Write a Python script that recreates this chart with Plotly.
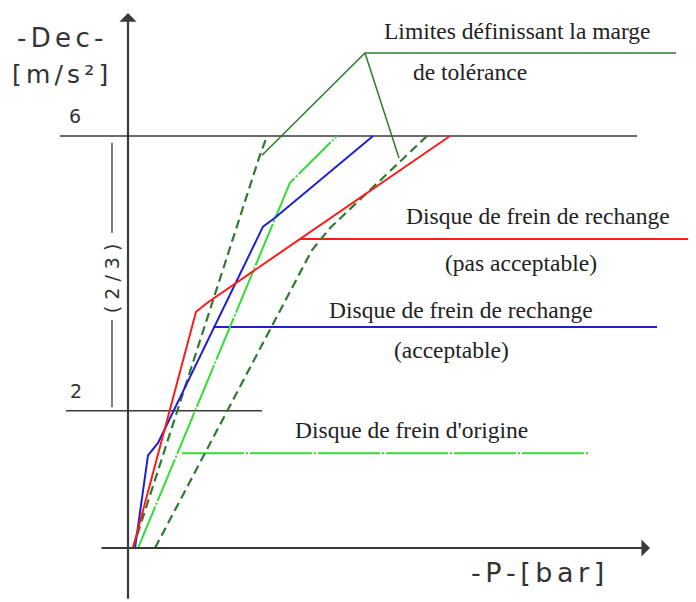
import plotly.graph_objects as go

# ---- data (pressure P in bar, deceleration Dec in m/s²) ----
red_p = [0.5, 6.8, 8.0, 32.2]
red_d = [0.0, 3.44, 3.58, 6.0]

blue_p = [0.7, 2.0, 3.0, 13.5, 14.7, 24.5]
blue_d = [0.0, 1.35, 1.53, 4.68, 4.81, 6.0]

green_p = [1.0, 16.2, 20.9]
green_d = [0.0, 5.32, 6.0]

tol_upper_p = [0.5, 13.1, 13.9]
tol_upper_d = [0.0, 5.68, 6.0]

tol_lower_p = [2.7, 18.4, 20.2, 29.9]
tol_lower_d = [0.0, 4.34, 4.66, 6.0]

# label leader lines
red_leader_p = [17.2, 57.2]
red_leader_d = [4.5, 4.5]
blue_leader_p = [8.5, 52.9]
blue_leader_d = [3.22, 3.22]
green_leader_p = [5.4, 46.2]
green_leader_d = [1.38, 1.38]
limit_leader_p = [13.4, 23.7, 54.8]
limit_leader_d = [5.72, 7.21, 7.21]
limit_arm_p = [23.7, 27.1]
limit_arm_d = [7.21, 5.68]

# reference levels
level_hi = 6
level_lo = 2
level_hi_p = [-6.8, 50.9]
level_lo_p = [-6.2, 13.4]
frac_p = -1.6
frac_top_d = [5.9, 4.59]
frac_bot_d = [3.32, 2.05]

# axis extents (figure sits 8px inside the page because of the body margin)
x_range = [-12.0, 56.8]
y_range = [-0.786, 7.864]

GRAY = "#3a3a3a"
DKGREEN = "#2f7a2f"
SERIF = "Liberation Serif, Times New Roman, serif"
SANS = "DejaVu Sans, sans-serif"

fig = go.Figure()

def line(x, y, color, width=2, dash="solid"):
    fig.add_trace(go.Scatter(x=x, y=y, mode="lines", hoverinfo="skip",
                             line=dict(color=color, width=width, dash=dash),
                             showlegend=False))

# reference horizontal lines
line(level_hi_p, [level_hi, level_hi], GRAY, 1.5)
line(level_lo_p, [level_lo, level_lo], GRAY, 1.5)
line([frac_p, frac_p], frac_top_d, GRAY, 1.3)
line([frac_p, frac_p], frac_bot_d, GRAY, 1.3)

# leader lines
line(limit_leader_p, limit_leader_d, DKGREEN, 1.5)
line(limit_arm_p, limit_arm_d, DKGREEN, 1.5)
line(red_leader_p, red_leader_d, "#ff1a1a", 2)
line(blue_leader_p, blue_leader_d, "#1f1fd6", 2)
line(green_leader_p, green_leader_d, "#33dd33", 2, "62px,2px,2px,2px")

# curves
line(tol_upper_p, tol_upper_d, DKGREEN, 2.2, "9px,5px")
line(tol_lower_p, tol_lower_d, DKGREEN, 2.2, "9px,5px")
line(green_p, green_d, "#33dd33", 2, "45px,2px,2px,2px")
line(blue_p, blue_d, "#1f1fd6", 2)
line(red_p, red_d, "#ff1a1a", 2)

annotations = []
# axes with arrows
annotations.append(dict(x=0, y=7.79, ax=0, ay=-0.76, xref="x", yref="y", axref="x", ayref="y",
                        showarrow=True, arrowhead=1, arrowsize=1.3, arrowwidth=2.2,
                        arrowcolor=GRAY, text=""))
annotations.append(dict(x=52.2, y=0, ax=-2.8, ay=0, xref="x", yref="y", axref="x", ayref="y",
                        showarrow=True, arrowhead=1, arrowsize=1.3, arrowwidth=2.2,
                        arrowcolor=GRAY, text=""))

def txt(x, y, s, size, family, angle=0, color="#222"):
    annotations.append(dict(x=x, y=y, xref="x", yref="y", text=s, showarrow=False,
                            textangle=angle, xanchor="center", yanchor="middle",
                            font=dict(size=size, family=family, color=color)))

ts = "\u2006"
txt(-6.8, 7.43, ts.join("-Dec-"), 26, SANS, color="#333")
txt(-6.8, 6.89, ts.join("[m/s²]"), 25, SANS, color="#333")
txt(-5.3, 6.29, str(level_hi), 19, SANS, color="#333")
txt(-5.2, 2.29, str(level_lo), 19, SANS, color="#333")
txt(frac_p, 3.93, " ".join("(2/3)"), 19, SANS, angle=-90, color="#333")
txt(40.9, -0.36, ts.join("-P-[bar]"), 27, SANS, color="#333")

txt(38.9, 7.53, "Limites définissant la marge", 23.5, SERIF)
txt(34.2, 6.93, "de tolérance", 23.5, SERIF)
txt(41.0, 4.83, "Disque de frein de rechange", 23.5, SERIF)
txt(39.3, 4.15, "(pas acceptable)", 23.5, SERIF)
txt(33.3, 3.47, "Disque de frein de rechange", 23.5, SERIF)
txt(32.3, 2.88, "(acceptable)", 23.5, SERIF)
txt(28.3, 1.72, "Disque de frein d'origine", 23.5, SERIF)

fig.update_layout(
    width=688, height=594,
    margin=dict(l=0, r=0, t=0, b=0),
    paper_bgcolor="white", plot_bgcolor="white",
    xaxis=dict(range=x_range, visible=False, fixedrange=True),
    yaxis=dict(range=y_range, visible=False, fixedrange=True),
    annotations=annotations,
    showlegend=False,
)

fig.write_html("out.html")
